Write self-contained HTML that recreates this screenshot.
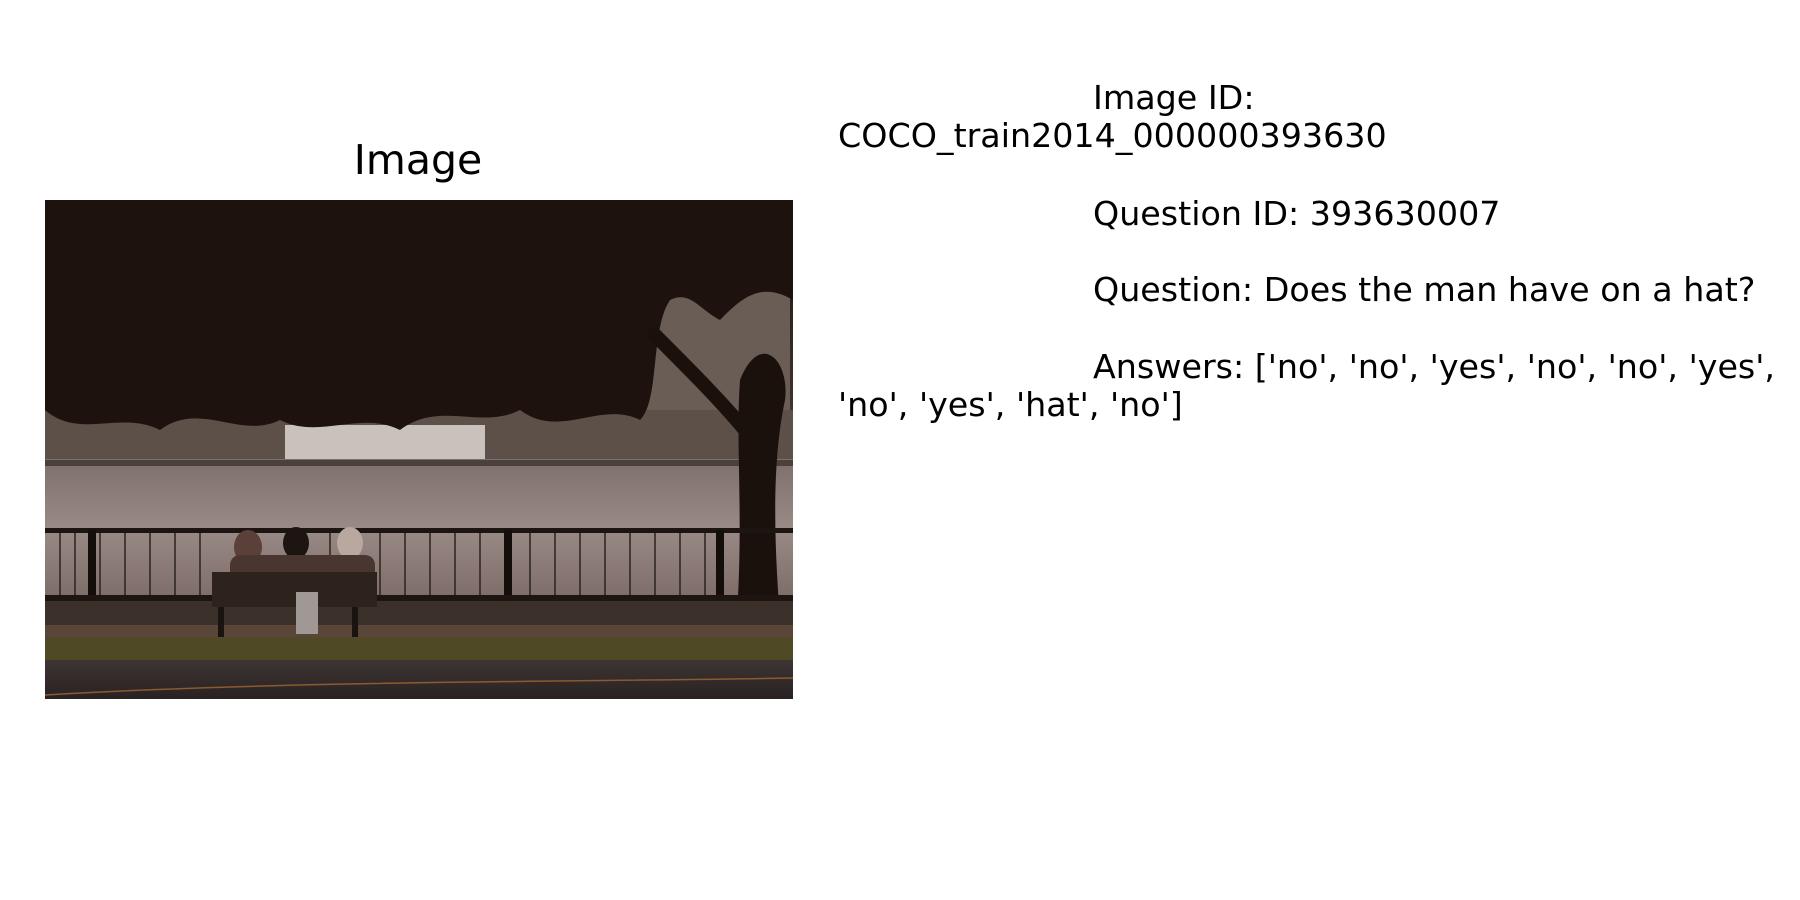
<!DOCTYPE html>
<html><head><meta charset="utf-8"><style>
html,body{margin:0;padding:0;background:#fff;width:1800px;height:900px;overflow:hidden}
svg{display:block}
text{font-family:"DejaVu Sans","Liberation Sans",sans-serif;fill:#000}
</style></head><body>
<svg width="1800" height="900" viewBox="0 0 1800 900">
<defs>
<linearGradient id="sky" x1="0" y1="0" x2="0" y2="1">
<stop offset="0" stop-color="#1a0f0b"/><stop offset="0.5" stop-color="#4a3a33"/><stop offset="1" stop-color="#6b5a52"/>
</linearGradient>
<linearGradient id="river" x1="0" y1="0" x2="0" y2="1">
<stop offset="0" stop-color="#7d6f6c"/><stop offset="0.5" stop-color="#9a8a86"/><stop offset="1" stop-color="#7e6d68"/>
</linearGradient>
<linearGradient id="road" x1="0" y1="0" x2="0" y2="1">
<stop offset="0" stop-color="#3d3533"/><stop offset="1" stop-color="#2a2222"/>
</linearGradient>
</defs>
<text x="418" y="174" font-size="41" text-anchor="middle">Image</text>
<g>
<rect x="45" y="200" width="748" height="499" fill="url(#sky)"/>
<rect x="620" y="260" width="170" height="200" fill="#6a5d56"/>
<rect x="45" y="410" width="748" height="50" fill="#5c5049"/>
<rect x="285" y="425" width="200" height="35" fill="#c9c1bc"/>
<rect x="45" y="459" width="748" height="138" fill="url(#river)"/>
<rect x="45" y="460" width="748" height="6" fill="#4a403c"/>
<path d="M45 200 H793 V300 C760 280 740 300 720 320 C700 310 690 290 670 300 C650 330 660 400 640 420 C600 400 560 440 520 410 C480 430 440 400 400 430 C360 410 320 440 280 420 C240 440 200 400 160 430 C120 410 80 440 45 410 Z" fill="#1d120d"/>
<path d="M740 380 C735 450 745 520 735 645 H782 C775 560 770 470 785 400 C790 360 760 330 740 380 Z" fill="#1a110c"/>
<path d="M650 330 C690 370 720 400 745 430" stroke="#1a110c" stroke-width="14" fill="none"/>
<rect x="45" y="528" width="748" height="5" fill="#1c1512"/>
<g stroke="#2a221e" stroke-width="1.5">
<path d="M60 533 V597 M75 533 V597 M100 533 V597 M125 533 V597 M150 533 V597 M175 533 V597 M200 533 V597 M330 533 V597 M355 533 V597 M380 533 V597 M405 533 V597 M430 533 V597 M455 533 V597 M480 533 V597 M530 533 V597 M555 533 V597 M580 533 V597 M605 533 V597 M630 533 V597 M655 533 V597 M680 533 V597 M705 533 V597"/>
</g>
<g fill="#140e0b"><rect x="88" y="530" width="8" height="72"/><rect x="504" y="530" width="8" height="72"/><rect x="716" y="530" width="8" height="72"/></g>
<rect x="45" y="595" width="748" height="6" fill="#1c1512"/>
<rect x="45" y="601" width="748" height="36" fill="#3c302a"/>
<rect x="45" y="625" width="748" height="12" fill="#5a4638"/>
<rect x="45" y="637" width="748" height="23" fill="#4f4a25"/>
<rect x="45" y="660" width="748" height="39" fill="url(#road)"/>
<path d="M45 695 C300 680 600 682 793 678" stroke="#8a5a30" stroke-width="1.5" fill="none"/>
<ellipse cx="248" cy="547" rx="14" ry="17" fill="#5a4038"/>
<ellipse cx="296" cy="543" rx="13" ry="16" fill="#1c1512"/>
<ellipse cx="350" cy="543" rx="13" ry="16" fill="#b8a8a0"/>
<rect x="230" y="555" width="145" height="40" rx="10" fill="#4a3630"/>
<rect x="212" y="572" width="165" height="35" fill="#2e221c"/>
<rect x="218" y="607" width="6" height="30" fill="#1a1410"/><rect x="352" y="607" width="6" height="30" fill="#1a1410"/>
<rect x="296" y="592" width="22" height="42" fill="#a09894"/>
</g>
<g font-size="33.3">
<text x="1093" y="109">Image ID:</text>
<text x="838" y="147">COCO_train2014_000000393630</text>
<text x="1093" y="225">Question ID: 393630007</text>
<text x="1093" y="301">Question: Does the man have on a hat?</text>
<text x="1093" y="378">Answers: ['no', 'no', 'yes', 'no', 'no', 'yes',</text>
<text x="838" y="416">'no', 'yes', 'hat', 'no']</text>
</g>
</svg>
</body></html>
